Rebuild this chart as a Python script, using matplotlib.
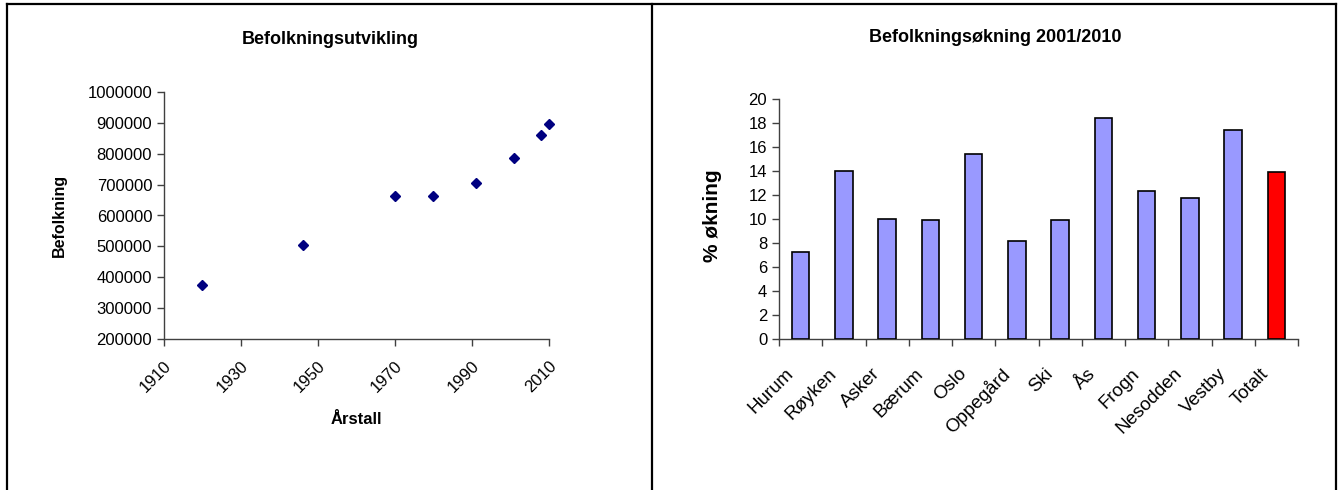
import matplotlib.pyplot as plt
import matplotlib.transforms as mtransforms
from matplotlib.lines import Line2D

plt.rcParams['font.family'] = ['Liberation Sans', 'DejaVu Sans']

# Left chart: population development
years = [1920, 1946, 1970, 1980, 1991, 2001, 2008, 2010]
population = [375000, 503000, 663000, 663000, 706000, 787000, 862000, 895000]
year_ticks = [1910, 1930, 1950, 1970, 1990, 2010]
pop_ticks = [200000, 300000, 400000, 500000, 600000, 700000, 800000, 900000, 1000000]

# Right chart: growth 2001/2010
places = ["Hurum", "Røyken", "Asker", "Bærum", "Oslo", "Oppegård", "Ski", "Ås",
          "Frogn", "Nesodden", "Vestby", "Totalt"]
growth = [7.2, 14.0, 9.95, 9.85, 15.35, 8.15, 9.85, 18.4, 12.3, 11.75, 17.4, 13.85]
growth_ticks = list(range(0, 21, 2))

axis_col = '#404040'
W, H = 1344, 490

fig = plt.figure(figsize=(13.44, 4.9), dpi=100)

# --- scatter ---
ax1 = fig.add_axes([164 / W, 151 / H, 385 / W, 247 / H])
ax1.plot(years, population, linestyle='none', marker='D', markersize=5.6,
         color='#000080', clip_on=False)
ax1.set_xlim(1910, 2010)
ax1.set_ylim(200000, 1000000)
ax1.set_xticks(year_ticks)
ax1.set_xticklabels([str(y) for y in year_ticks], rotation=45, ha='right',
                    rotation_mode='anchor', fontsize=12)
ax1.set_yticks(pop_ticks)
ax1.set_yticklabels([str(p) for p in pop_ticks], fontsize=12)
ax1.tick_params(axis='x', pad=9)
shift1 = mtransforms.ScaledTranslation(-6 / 100, 0, fig.dpi_scale_trans)
for lab in ax1.get_xticklabels():
    lab.set_transform(lab.get_transform() + shift1)
fig.text(330 / W, 1 - 39 / H, "Befolkningsutvikling", fontsize=13,
         fontweight='bold', ha='center', va='center')
fig.text(356 / W, 1 - 419 / H, "Årstall", fontsize=12,
         fontweight='bold', ha='center', va='center')
fig.text(59 / W, 1 - 215 / H, "Befolkning", fontsize=11.5, rotation=90,
         fontweight='bold', ha='center', va='center')

# --- bars ---
ax2 = fig.add_axes([779 / W, 151.3 / H, 519 / W, 240 / H])
pos = list(range(len(places)))
colors = ['#9999FF'] * (len(places) - 1) + ['#FF0000']
ax2.bar(pos, growth, width=0.4, color=colors, edgecolor='black', linewidth=1.2,
        zorder=3)
ax2.set_xlim(-0.5, len(places) - 0.5)
ax2.set_ylim(0, 20)
ax2.set_yticks(growth_ticks)
ax2.set_yticklabels([str(g) for g in growth_ticks], fontsize=12)
ax2.set_xticks([p - 0.5 for p in range(len(places) + 1)])
ax2.set_xticklabels([])
ax2.set_xticks(pos, minor=True)
ax2.set_xticklabels(places, minor=True, rotation=45, ha='right',
                    rotation_mode='anchor', fontsize=13.5)
ax2.tick_params(axis='x', which='minor', length=0, pad=19)
shift2 = mtransforms.ScaledTranslation(-16 / 100, 0, fig.dpi_scale_trans)
for lab in ax2.get_xticklabels(minor=True):
    lab.set_transform(lab.get_transform() + shift2)
fig.text(995 / W, 1 - 37 / H, "Befolkningsøkning 2001/2010", fontsize=13,
         fontweight='bold', ha='center', va='center')
fig.text(712 / W, 1 - 216 / H, "% økning", fontsize=15, rotation=90,
         fontweight='bold', ha='center', va='center')

for ax in (ax1, ax2):
    for s in ('top', 'right'):
        ax.spines[s].set_visible(False)
    for s in ('left', 'bottom'):
        ax.spines[s].set_color(axis_col)
        ax.spines[s].set_linewidth(1.0)
    ax.tick_params(axis='both', which='major', direction='out', length=5,
                   width=1.0, color=axis_col, labelcolor='black')

# panel borders
for xs, ys in [((7 / W, 1336 / W), (1 - 4 / H, 1 - 4 / H)),
               ((7 / W, 7 / W), (0, 1 - 4 / H)),
               ((652 / W, 652 / W), (0, 1 - 4 / H)),
               ((1336 / W, 1336 / W), (0, 1 - 4 / H))]:
    fig.add_artist(Line2D(xs, ys, color='black', linewidth=1.6))

fig.savefig("out.png", dpi=100)
